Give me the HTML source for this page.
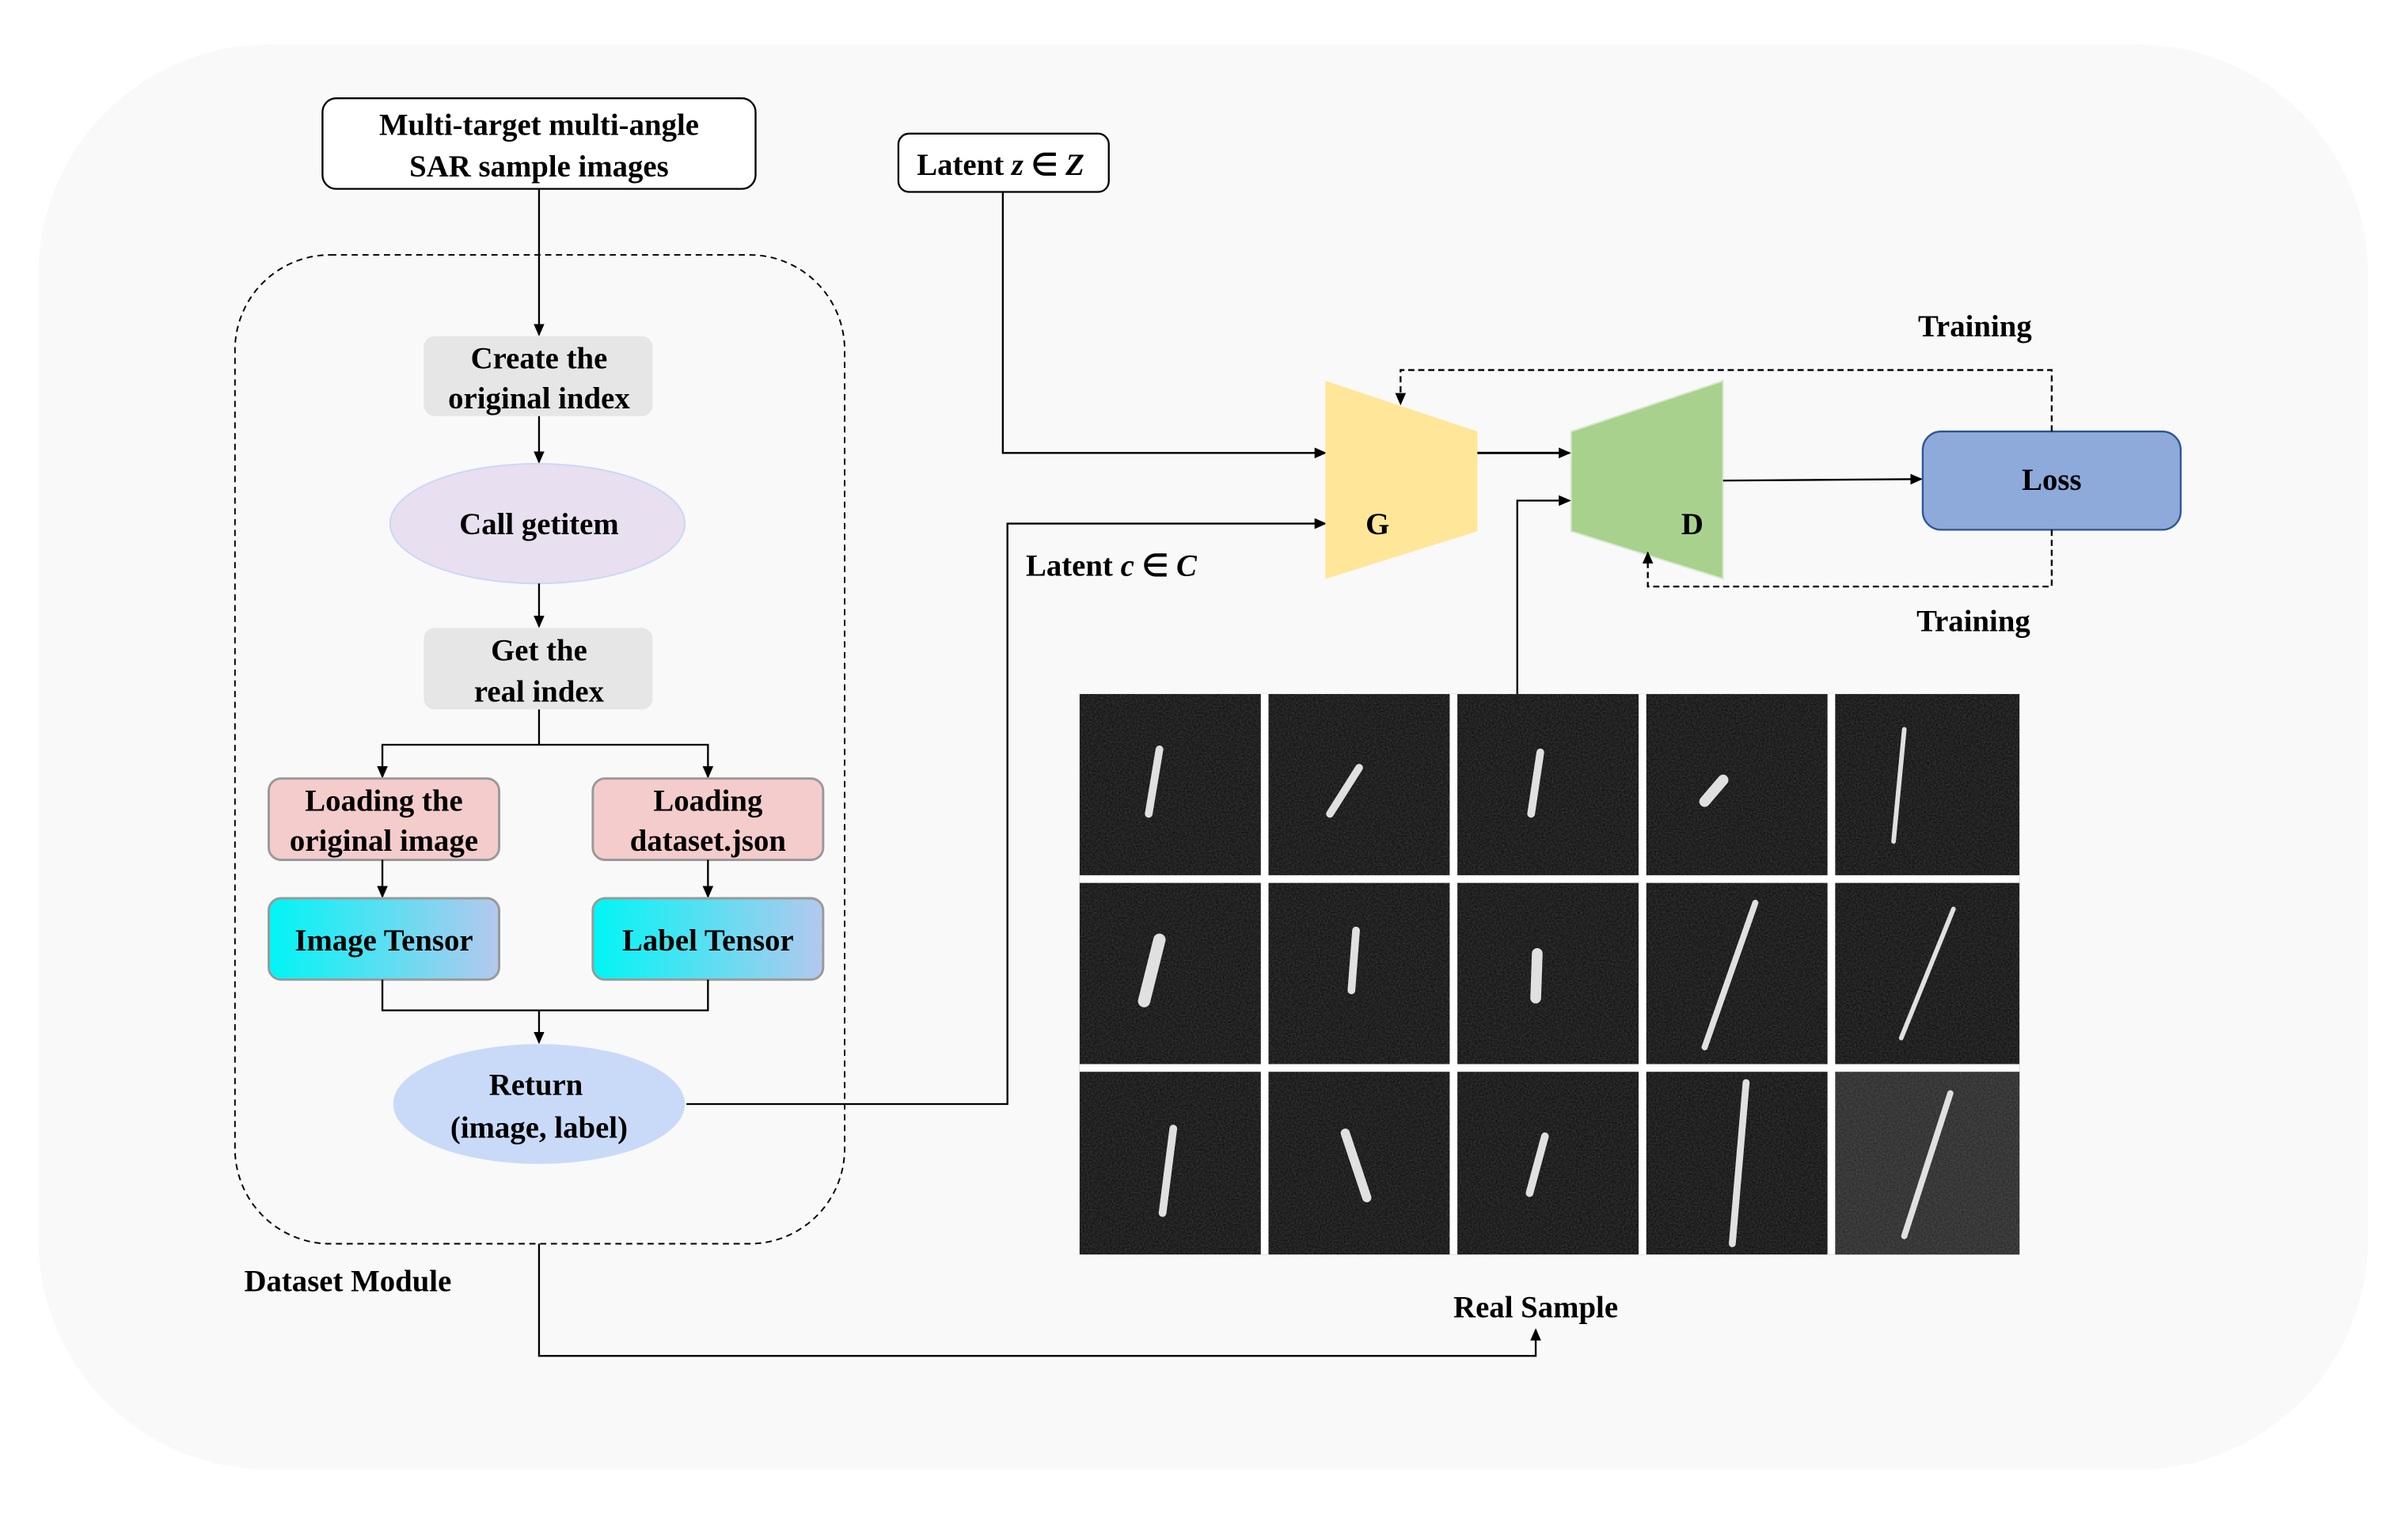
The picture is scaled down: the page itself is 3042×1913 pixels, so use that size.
<!DOCTYPE html>
<html><head><meta charset="utf-8"><style>
html,body{margin:0;padding:0;background:#fff}
svg{display:block}
text{font-family:"Liberation Serif",serif;font-weight:bold;fill:#000}
</style></head><body>
<svg width="3042" height="1913" viewBox="0 0 1568 986" preserveAspectRatio="none" xmlns="http://www.w3.org/2000/svg">
<defs>
<marker id="a" markerWidth="8" markerHeight="8" refX="7" refY="4" orient="auto" markerUnits="userSpaceOnUse"><path d="M0,0.5 L8,4 L0,7.5 Z" fill="#000"/></marker>
<linearGradient id="cy" x1="0" x2="1" y1="0" y2="0"><stop offset="0" stop-color="#00f5f5"/><stop offset="1" stop-color="#b4c8ee"/></linearGradient>
<filter id="n" x="0" y="0" width="1" height="1"><feTurbulence type="fractalNoise" baseFrequency="0.9" numOctaves="2" seed="3"/><feColorMatrix type="matrix" values="0 0 0 0 0.35  0 0 0 0 0.35  0 0 0 0 0.35  0 0 0 0.35 -0.05"/></filter>
</defs>
<rect x="0" y="0" width="1568" height="986" fill="#fff"/>
<rect x="25" y="29" width="1517" height="928" rx="150" fill="#f9f9f9"/>

<rect x="210" y="64" width="282" height="59" rx="9" fill="#fff" stroke="#000" stroke-width="1.2"/>
<text x="351" y="88" font-size="20" text-anchor="middle">Multi-target multi-angle</text>
<text x="351" y="115" font-size="20" text-anchor="middle">SAR sample images</text>

<rect x="153" y="166" width="397" height="644" rx="62" fill="none" stroke="#000" stroke-width="1" stroke-dasharray="4,3"/>
<line x1="351" y1="123" x2="351" y2="218" stroke="#000" stroke-width="1.2" marker-end="url(#a)"/>

<rect x="276" y="219" width="149" height="52" rx="7" fill="#e6e6e6"/>
<text x="351" y="240" font-size="20" text-anchor="middle">Create the</text>
<text x="351" y="266" font-size="20" text-anchor="middle">original index</text>
<line x1="351" y1="271" x2="351" y2="301" stroke="#000" stroke-width="1.2" marker-end="url(#a)"/>

<ellipse cx="350" cy="341" rx="96" ry="39" fill="#e8dff0" stroke="#c9d8f5" stroke-width="1"/>
<text x="351" y="348" font-size="20" text-anchor="middle">Call getitem</text>
<line x1="351" y1="380" x2="351" y2="408" stroke="#000" stroke-width="1.2" marker-end="url(#a)"/>

<rect x="276" y="409" width="149" height="53" rx="7" fill="#e6e6e6"/>
<text x="351" y="430" font-size="20" text-anchor="middle">Get the</text>
<text x="351" y="457" font-size="20" text-anchor="middle">real index</text>
<path d="M351,462 V485 H249 V506" fill="none" stroke="#000" stroke-width="1.2" marker-end="url(#a)"/>
<path d="M351,485 H461 V506" fill="none" stroke="#000" stroke-width="1.2" marker-end="url(#a)"/>

<rect x="175" y="507" width="150" height="53" rx="8" fill="#f4cccc" stroke="#999" stroke-width="1.5"/>
<text x="250" y="528" font-size="20" text-anchor="middle">Loading the</text>
<text x="250" y="554" font-size="20" text-anchor="middle">original image</text>
<rect x="386" y="507" width="150" height="53" rx="8" fill="#f4cccc" stroke="#999" stroke-width="1.5"/>
<text x="461" y="528" font-size="20" text-anchor="middle">Loading</text>
<text x="461" y="554" font-size="20" text-anchor="middle">dataset.json</text>
<line x1="249" y1="560" x2="249" y2="584" stroke="#000" stroke-width="1.2" marker-end="url(#a)"/>
<line x1="461" y1="560" x2="461" y2="584" stroke="#000" stroke-width="1.2" marker-end="url(#a)"/>

<rect x="175" y="585" width="150" height="53" rx="8" fill="url(#cy)" stroke="#999" stroke-width="1.5"/>
<text x="250" y="619" font-size="20" text-anchor="middle">Image Tensor</text>
<rect x="386" y="585" width="150" height="53" rx="8" fill="url(#cy)" stroke="#999" stroke-width="1.5"/>
<text x="461" y="619" font-size="20" text-anchor="middle">Label Tensor</text>
<path d="M249,638 V658 H461 V638" fill="none" stroke="#000" stroke-width="1.2"/>
<line x1="351" y1="658" x2="351" y2="679" stroke="#000" stroke-width="1.2" marker-end="url(#a)"/>

<ellipse cx="351" cy="719" rx="95" ry="39" fill="#c9daf8"/>
<text x="349" y="713" font-size="20" text-anchor="middle">Return</text>
<text x="351" y="741" font-size="20" text-anchor="middle">(image, label)</text>
<path d="M447,719 H656 V341 H863" fill="none" stroke="#000" stroke-width="1.2" marker-end="url(#a)"/>

<text x="159" y="841" font-size="20">Dataset Module</text>
<path d="M351,810 V883 H1000 V866" fill="none" stroke="#000" stroke-width="1.2" marker-end="url(#a)"/>
<text x="1000" y="858" font-size="20" text-anchor="middle">Real Sample</text>

<rect x="585" y="87" width="137" height="38" rx="7" fill="#fff" stroke="#000" stroke-width="1.2"/>
<text x="597" y="114" font-size="20">Latent <tspan font-style="italic">z</tspan> ∈ <tspan font-style="italic">Z</tspan></text>
<path d="M653,125 V295 H863" fill="none" stroke="#000" stroke-width="1.2" marker-end="url(#a)"/>
<text x="668" y="375" font-size="20">Latent <tspan font-style="italic">c</tspan> ∈ <tspan font-style="italic">C</tspan></text>

<polygon points="863,248 962,281 962,346 863,377" fill="#ffe699"/>
<text x="897" y="348" font-size="20" text-anchor="middle">G</text>
<polygon points="1023,281 1122,248 1122,377 1023,346" fill="#a9d18e" stroke="#d9ead3" stroke-width="1"/>
<text x="1102" y="348" font-size="20" text-anchor="middle">D</text>
<line x1="962" y1="295" x2="1022" y2="295" stroke="#000" stroke-width="1.5" marker-end="url(#a)"/>
<line x1="1122" y1="313" x2="1251" y2="312" stroke="#000" stroke-width="1.2" marker-end="url(#a)"/>
<path d="M988,452 V326 H1022" fill="none" stroke="#000" stroke-width="1.2" marker-end="url(#a)"/>

<rect x="1252" y="281" width="168" height="64" rx="12" fill="#8eaadb" stroke="#2f5597" stroke-width="1.2"/>
<text x="1336" y="319" font-size="20" text-anchor="middle">Loss</text>

<path d="M1336,281 V241 H912 V263" fill="none" stroke="#000" stroke-width="1.2" stroke-dasharray="4,2.5" marker-end="url(#a)"/>
<path d="M1336,345 V382 H1073 V360" fill="none" stroke="#000" stroke-width="1.2" stroke-dasharray="4,2.5" marker-end="url(#a)"/>
<text x="1286" y="219" font-size="20" text-anchor="middle">Training</text>
<text x="1285" y="411" font-size="20" text-anchor="middle">Training</text>

<g>
<rect x="703" y="452" width="612" height="365" fill="#101010"/>
<rect x="1195" y="698" width="120" height="119" fill="#2a2a2a"/>
<g filter="url(#n)">
<rect x="703" y="452" width="612" height="365" fill="#000"/>
</g>
<g fill="none" stroke="#e0e0e0" stroke-width="5" stroke-linecap="round">
<line x1="755" y1="488" x2="748" y2="530"/>
<line x1="885" y1="500" x2="866" y2="530"/>
<line x1="1003" y1="490" x2="997" y2="530"/>
<line x1="1122" y1="508" x2="1110" y2="522" stroke-width="7"/>
<line x1="1240" y1="475" x2="1233" y2="548" stroke-width="3"/>
<line x1="755" y1="612" x2="745" y2="652" stroke-width="8"/>
<line x1="883" y1="606" x2="880" y2="645"/>
<line x1="1001" y1="621" x2="1000" y2="650" stroke-width="7"/>
<line x1="1143" y1="588" x2="1110" y2="682" stroke-width="4"/>
<line x1="1272" y1="592" x2="1238" y2="676" stroke-width="3"/>
<line x1="764" y1="735" x2="757" y2="790"/>
<line x1="876" y1="738" x2="890" y2="780" stroke-width="6"/>
<line x1="1006" y1="740" x2="996" y2="777"/>
<line x1="1137" y1="705" x2="1128" y2="810" stroke-width="4.5"/>
<line x1="1270" y1="712" x2="1240" y2="805" stroke-width="4"/>
</g>
<g fill="#fff">
<rect x="821" y="452" width="5" height="365"/><rect x="944" y="452" width="5" height="365"/><rect x="1067" y="452" width="5" height="365"/><rect x="1190" y="452" width="5" height="365"/>
<rect x="703" y="570" width="612" height="5"/><rect x="703" y="693" width="612" height="5"/>
</g>
</g>
</svg>
</body></html>
